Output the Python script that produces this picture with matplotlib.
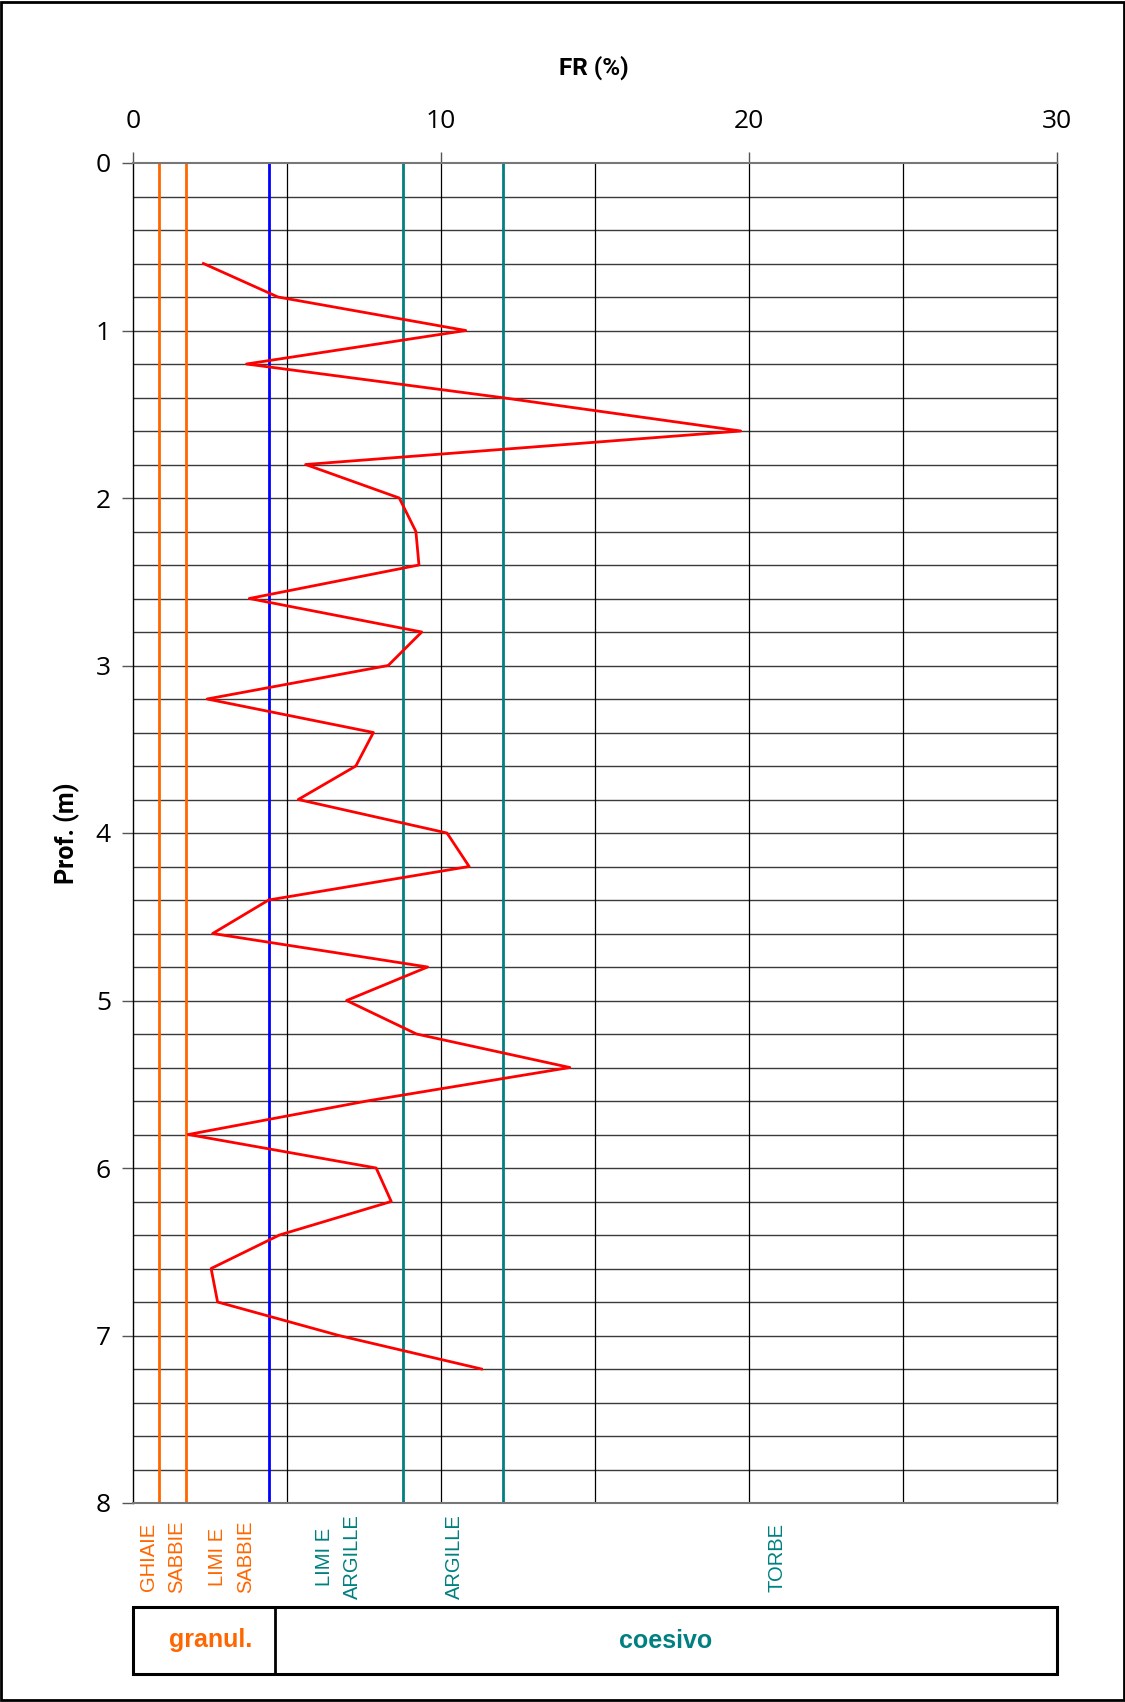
import numpy as np
import matplotlib
matplotlib.use('Agg')
import matplotlib.pyplot as plt
import matplotlib.transforms as mtransforms
from matplotlib.patches import Rectangle

# dati prova penetrometrica
depth = [0.6, 0.8, 1.0, 1.2, 1.4, 1.6, 1.8, 2.0, 2.2, 2.4, 2.6, 2.8, 3.0, 3.2, 3.4, 3.6, 3.8,
         4.0, 4.2, 4.4, 4.6, 4.8, 5.0, 5.2, 5.4, 5.6, 5.8, 6.0, 6.2, 6.4, 6.6, 6.8, 7.0, 7.2]
fr = [2.28, 4.70, 10.80, 3.68, 11.95, 19.73, 5.60, 8.64, 9.18, 9.28, 3.77, 9.37, 8.28, 2.40, 7.80, 7.23, 5.36,
      10.19, 10.91, 4.40, 2.58, 9.56, 6.93, 9.20, 14.18, 7.59, 1.79, 7.89, 8.38, 4.75, 2.53, 2.74, 6.68, 11.31]

# limiti di classificazione
limits_orange = [0.85, 1.70]
limit_blue = 4.40
limits_teal = [8.75, 12.0]

soil_labels = ['GHIAIE\nSABBIE', 'LIMI E\nSABBIE', 'LIMI E\nARGILLE', 'ARGILLE', 'TORBE']
soil_x = [0.95, 3.2, 6.68, 10.42, 20.9]
soil_granular = [True, True, False, False, False]
box_split = 4.6

ORANGE = '#FF6600'
TEAL = '#008080'
TICKFONT = ['Open Sans', 'DejaVu Sans']
LABFONT = ['Roboto', 'DejaVu Sans']
SOILFONT = ['Liberation Sans', 'DejaVu Sans']

fig = plt.figure(figsize=(11.25, 17.02), dpi=100)
W, H = 1125.0, 1702.0
ax = fig.add_axes([133.2 / W, 1 - 1503 / H, (1057 - 133.2) / W, (1503 - 163) / H])

ax.set_xlim(0, 30)
ax.set_ylim(8, 0)

# griglia
for d in np.arange(0.2, 8.0, 0.2):
    ax.axhline(d, color='#3a3a3a', lw=1.0, zorder=1)
for v in [5, 10, 15, 20, 25]:
    ax.axvline(v, color='black', lw=0.9, zorder=1)

for v in limits_orange:
    ax.axvline(v, color=ORANGE, lw=2, zorder=2)
ax.axvline(limit_blue, color='#0000FF', lw=2, zorder=2)
for v in limits_teal:
    ax.axvline(v, color=TEAL, lw=2, zorder=2)

ax.plot(fr, depth, color='#FF0000', lw=2, zorder=3)

ax.xaxis.tick_top()
ax.set_xticks([0, 10, 20, 30])
ax.set_yticks(range(0, 9))
ax.tick_params(axis='x', length=8, width=1, pad=13, labelsize=19, color='#555')
ax.tick_params(axis='y', length=8, width=1, pad=8, labelsize=19, color='#555')
for lab in ax.get_xticklabels() + ax.get_yticklabels():
    lab.set_family(TICKFONT)

for s in ['top', 'bottom']:
    ax.spines[s].set_color('#777')
    ax.spines[s].set_linewidth(1.5)
for s in ['left', 'right']:
    ax.spines[s].set_color('black')
    ax.spines[s].set_linewidth(1)

fig.text(594 / W, 1 - 68 / H, 'FR (%)', ha='center', va='center', fontsize=17.5,
         fontweight='bold', family=LABFONT)
fig.text(67 / W, 1 - 833 / H, 'Prof. (m)', ha='center', va='center', rotation=90,
         fontsize=18, fontweight='bold', family=LABFONT)

# etichette terreni
trans = mtransforms.blended_transform_factory(ax.transData, fig.transFigure)
for lab, x, gr in zip(soil_labels, soil_x, soil_granular):
    ax.text(x, 1 - 1557 / H, lab, transform=trans, rotation=90, ha='center', va='center',
            multialignment='center', fontsize=14.5, linespacing=1.6,
            color=ORANGE if gr else TEAL, family=SOILFONT)

# riquadro granulare / coesivo
y0, y1 = 1 - 1674 / H, 1 - 1607 / H
ax.add_patch(Rectangle((0, y0), 30, y1 - y0, transform=trans, fill=False,
                       edgecolor='black', lw=2.2, clip_on=False))
ax.plot([box_split, box_split], [y0, y1], transform=trans, color='black', lw=2, clip_on=False)
ax.text(box_split / 2 + 0.2, (y0 + y1) / 2, 'granul.', transform=trans, ha='center', va='center',
        fontsize=18, fontweight='bold', color=ORANGE, family=SOILFONT)
ax.text((box_split + 30) / 2, (y0 + y1) / 2, 'coesivo', transform=trans, ha='center', va='center',
        fontsize=18, fontweight='bold', color=TEAL, family=SOILFONT)

# cornice
fig.patches.append(Rectangle((0.001, 0.001), 0.998, 0.998, transform=fig.transFigure,
                             fill=False, edgecolor='black', lw=2))

plt.savefig('out.png', dpi=100)
